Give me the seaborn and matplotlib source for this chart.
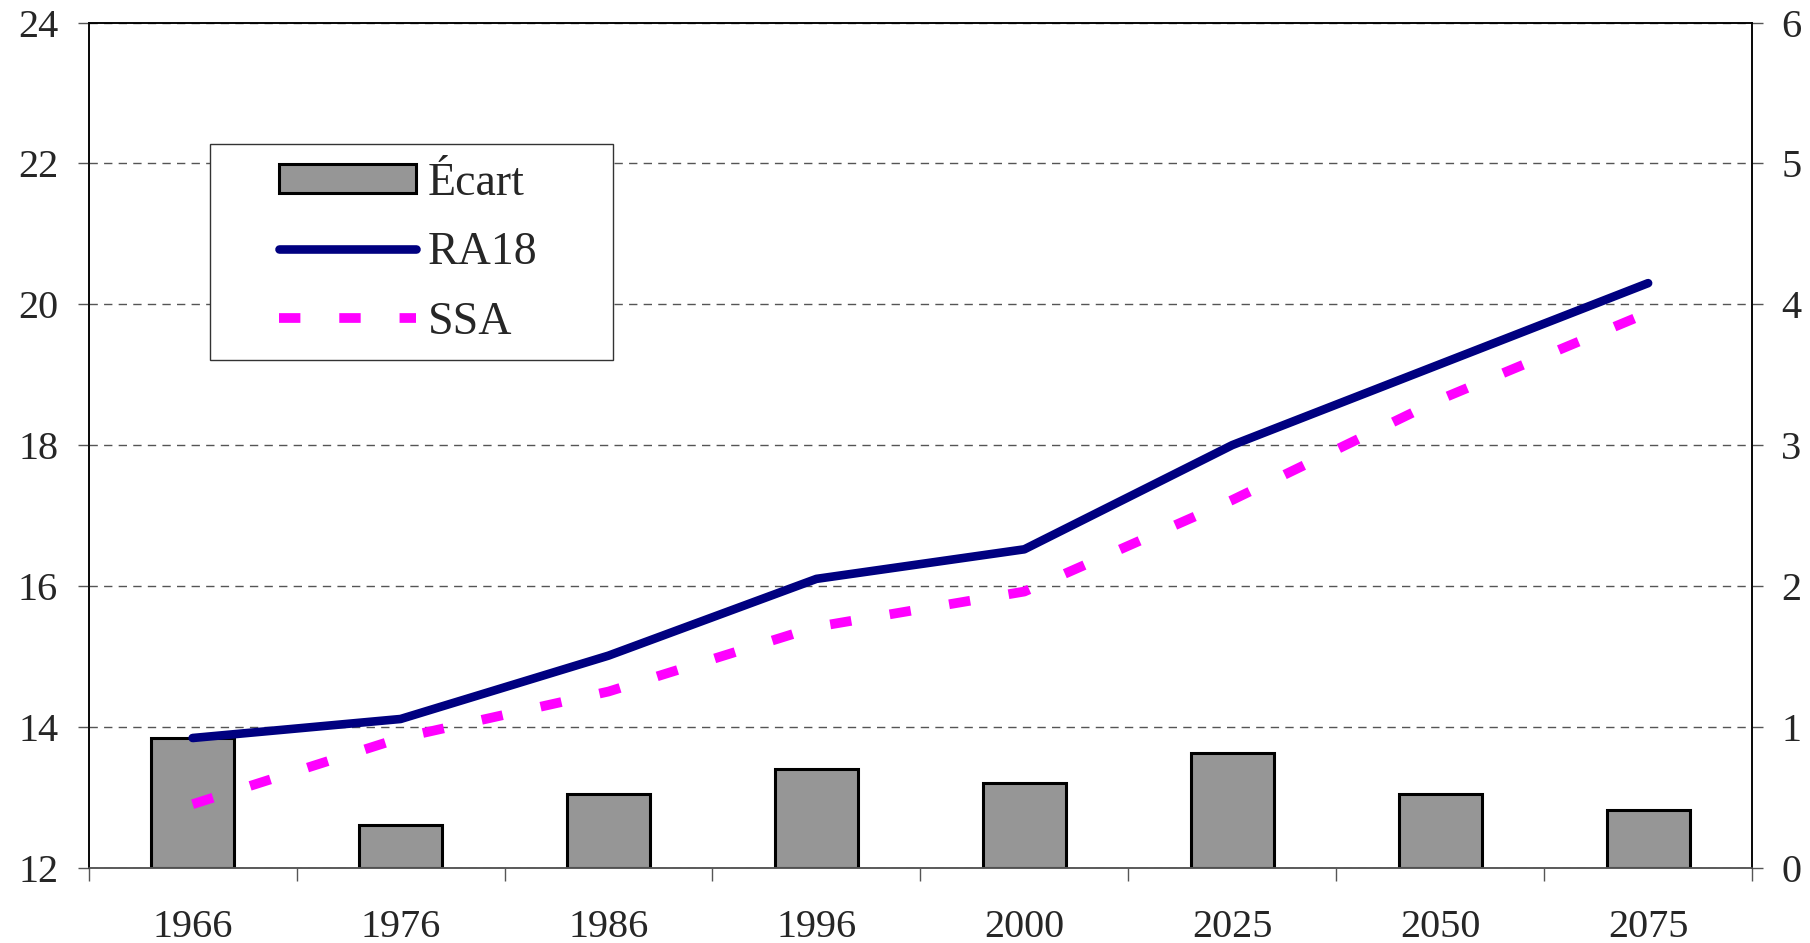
import numpy as np
import pandas as pd
import seaborn as sns
import matplotlib.pyplot as plt
from matplotlib.patches import Patch, Rectangle
from matplotlib.lines import Line2D

# ── Data ─────────────────────────────────────────────────────────────
years = ["1966", "1976", "1986", "1996", "2000", "2025", "2050", "2075"]
ra18 = [13.84, 14.11, 15.01, 16.10, 16.52, 18.00, 19.15, 20.30]
ssa = [12.90, 13.84, 14.50, 15.42, 15.92, 17.22, 18.65, 19.88]
ecart = [0.92, 0.30, 0.52, 0.70, 0.60, 0.81, 0.52, 0.41]

df = pd.DataFrame({"year": years, "RA18": ra18, "SSA": ssa, "Ecart": ecart})

sns.set_theme(style="white")
plt.rcParams['font.family'] = ['Liberation Serif', 'DejaVu Serif']

NAVY = "#000080"
MAGENTA = "#FF00FF"
GREY = "#969696"
SSA_DASH = (2.2, 4.0)

fig = plt.figure(figsize=(18.10, 9.43), dpi=100)
ax_bar = fig.add_axes([0.049, 0.080, 0.919, 0.896])
ax_line = ax_bar.twinx()

# bars (Écart) on the right-hand scale
sns.barplot(data=df, x="year", y="Ecart", color=GREY, edgecolor="black",
            linewidth=2.2, width=0.4, saturation=1, ax=ax_bar, zorder=2)

# lines on the left-hand scale
sns.lineplot(data=df, x="year", y="RA18", color=NAVY, lw=6.2,
             solid_capstyle="round", ax=ax_line, sort=False)
sns.lineplot(data=df, x="year", y="SSA", color=MAGENTA, lw=7,
             dashes=False, ax=ax_line, sort=False)
ax_line.lines[-1].set_dashes(SSA_DASH)
ax_line.lines[-1].set_dash_capstyle("butt")

# ── Axes styling ─────────────────────────────────────────────────────
ax_bar.set_ylim(0, 6)
ax_bar.set_yticks(range(0, 7))
ax_line.set_ylim(12, 24)
ax_line.set_yticks(range(12, 25, 2))

ax_bar.yaxis.tick_right()
ax_line.yaxis.tick_left()
for a in (ax_bar, ax_line):
    a.set_ylabel("")
    a.set_xlabel("")

ax_bar.set_xlim(-0.5, len(years) - 0.5)
ax_bar.set_xticks(range(len(years)))
ax_bar.set_xticklabels(years)
ax_bar.set_xticks(np.arange(-0.5, len(years), 1.0), minor=True)
ax_bar.tick_params(axis="x", which="major", length=0, pad=30, labelsize=29)
ax_bar.tick_params(axis="x", which="minor", length=9, width=1, color="#555555",
                   direction="out", bottom=True)
ax_bar.tick_params(axis="y", which="major", length=8, width=1, color="#555555",
                   direction="out", pad=13, labelsize=29)
ax_line.tick_params(axis="y", which="major", length=8, width=1, color="#555555",
                    direction="out", pad=14, labelsize=29)

ax_bar.yaxis.grid(True, linestyle=(0, (6, 4.5)), color="#555555", lw=1.0)
ax_bar.set_axisbelow(True)

for a in (ax_bar, ax_line):
    for s in a.spines.values():
        s.set_color("black")
        s.set_linewidth(1.1)
    a.spines["bottom"].set_color("#555555")

# ── Legend ───────────────────────────────────────────────────────────
ax_line.add_patch(Rectangle((0.0729, 0.6008), 0.2423, 0.2556,
                            transform=ax_line.transAxes, facecolor="white",
                            edgecolor="#333333", lw=1.0, zorder=4))
handles = [
    Patch(facecolor=GREY, edgecolor="black", linewidth=2.2),
    Line2D([], [], color=NAVY, lw=6.2, solid_capstyle="round"),
    Line2D([], [], color=MAGENTA, lw=7, dashes=SSA_DASH,
           dash_capstyle="butt"),
]
leg = ax_line.legend(handles, ["Écart", "RA18", "SSA"],
                     loc="upper left", bbox_to_anchor=(0.1144, 0.835),
                     fontsize=33, frameon=False,
                     handlelength=3.0, handleheight=0.62, labelspacing=0.59,
                     borderpad=0, borderaxespad=0, handletextpad=0.25)
leg.set_zorder(5)

fig.savefig("out.png", dpi=100)
